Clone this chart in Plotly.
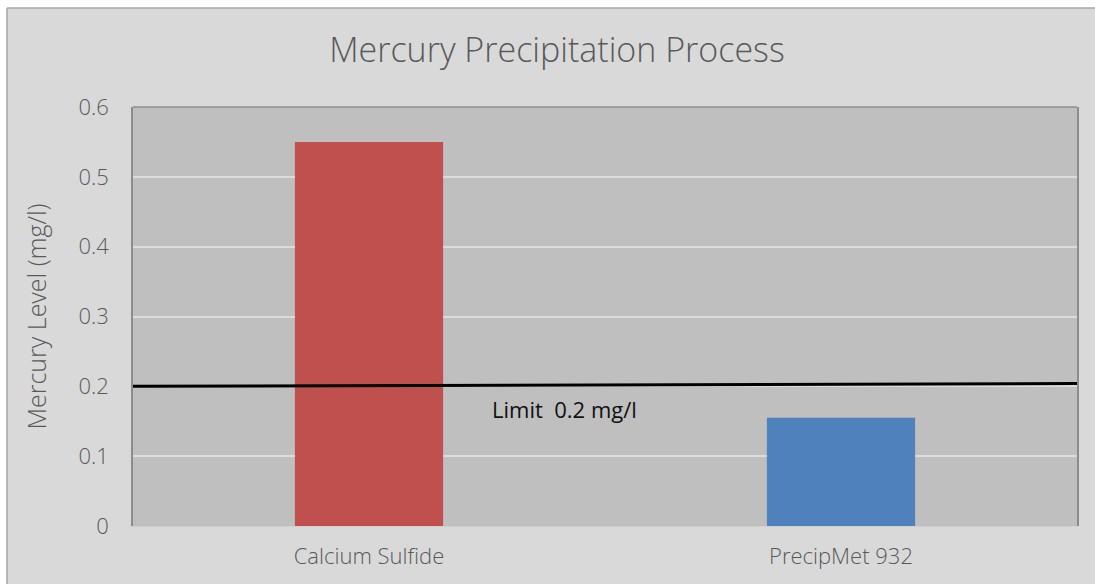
import plotly.graph_objects as go

categories = ["Calcium Sulfide", "PrecipMet 932"]
values = [0.55, 0.155]
bar_colors = ["#c0504d", "#4f81bd"]
limit_x = [-0.5, 1.5]
limit_y = [0.2, 0.204]
y_ticks = [0, 0.1, 0.2, 0.3, 0.4, 0.5, 0.6]
y_tick_labels = ["0", "0.1", "0.2", "0.3", "0.4", "0.5", "0.6"]

FONT = "Open Sans"
W, H = 1095, 584
L, R, T, B = 133, 18, 107, 58
pw, ph = W - L - R, H - T - B


def px(x):
    return (x - L) / pw


def py(y):
    return (H - B - y) / ph


fig = go.Figure()
fig.add_trace(go.Bar(
    x=list(range(len(categories))), y=values,
    marker=dict(color=bar_colors, line=dict(width=0)),
    width=0.314, showlegend=False, hoverinfo="skip",
))
fig.add_trace(go.Scatter(
    x=limit_x, y=limit_y, mode="lines",
    line=dict(color="#000000", width=3), showlegend=False, hoverinfo="skip",
))

fig.add_annotation(
    x=0.415, y=0.1675, xref="x", yref="y", text="Limit\u00a0 0.2 mg/l",
    showarrow=False, font=dict(family=FONT, size=22, color="#111111", weight=400),
)

shapes = [
    dict(type="rect", xref="paper", yref="paper", layer="below",
         x0=px(-20), x1=px(7), y0=py(-20), y1=py(620),
         fillcolor="#ffffff", line=dict(width=0)),
    dict(type="rect", xref="paper", yref="paper", layer="below",
         x0=px(-20), x1=px(1120), y0=py(-20), y1=py(8),
         fillcolor="#ffffff", line=dict(width=0)),
    dict(type="line", xref="paper", yref="paper", x0=px(7), x1=px(7), y0=py(8), y1=py(620),
         line=dict(color="#a6a6a6", width=1.5)),
    dict(type="line", xref="paper", yref="paper", x0=px(7), x1=px(1120), y0=py(8), y1=py(8),
         line=dict(color="#a6a6a6", width=1.5)),
    dict(type="line", xref="paper", yref="paper", x0=0, x1=1, y0=1, y1=1,
         line=dict(color="#8c8c8c", width=1.5)),
]

fig.update_layout(
    width=W, height=H,
    margin=dict(l=L, r=R, t=T, b=B, autoexpand=False),
    paper_bgcolor="#d9d9d9", plot_bgcolor="#bfbfbf",
    shapes=shapes,
    title=dict(text="Mercury Precipitation Process", x=557 / W, xref="container", xanchor="center",
               y=1 - 50 / H, yanchor="middle",
               font=dict(family=FONT, size=34, color="#595959", weight=300)),
    xaxis=dict(range=[-0.5, 1.5], tickvals=list(range(len(categories))), ticktext=categories,
               showgrid=False, zeroline=False, showline=True, linecolor="#d0d0d0", linewidth=1,
               ticks="", ticklabelstandoff=11,
               tickfont=dict(family=FONT, size=22, color="#595959", weight=300)),
    yaxis=dict(range=[0, 0.6], tickvals=y_ticks, ticktext=y_tick_labels,
               showgrid=True, gridcolor="#dcdcdc", gridwidth=1.5, zeroline=False,
               showline=True, linecolor="#8c8c8c", linewidth=1.5, mirror=True,
               ticks="", ticklabelstandoff=18,
               tickfont=dict(family=FONT, size=22, color="#595959", weight=300),
               title=dict(text="Mercury Level (mg/l)", standoff=25,
                          font=dict(family=FONT, size=25, color="#595959", weight=300))),
    bargap=0.686,
)

fig.write_html("out.html", config={"displayModeBar": False})
with open("out.html", encoding="utf-8") as f:
    html = f.read()
html = html.replace("<head>", "<head><style>html,body{margin:0;padding:0;overflow:hidden}</style>", 1)
with open("out.html", "w", encoding="utf-8") as f:
    f.write(html)
